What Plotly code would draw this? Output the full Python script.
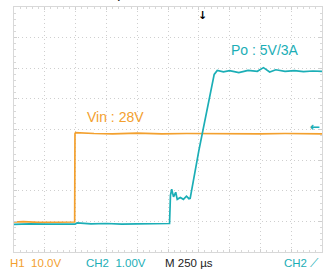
import plotly.graph_objects as go

# Time in divisions (0..10), voltage in divisions (0..8)
vin_t = [0.0, 0.3, 0.8, 1.2, 1.6, 1.97, 1.98, 2.0, 2.6, 3.2, 4.0, 4.8, 5.6, 6.4, 7.2, 8.0, 8.8, 9.6, 10.0]
vin_v = [0.98, 0.99, 0.97, 0.98, 0.99, 0.98, 3.86, 3.90, 3.87, 3.86, 3.88, 3.86, 3.87, 3.86, 3.87, 3.86, 3.87, 3.86, 3.86]

po_t = [0.0, 0.5, 1.0, 1.5, 1.98, 2.05, 2.5, 3.0, 3.5, 4.0, 4.5, 5.05, 5.08, 5.12, 5.18, 5.25, 5.3, 5.4, 5.5, 5.6, 5.68, 5.72,
        6.0, 6.3, 6.5, 6.6, 6.8, 7.0, 7.3, 7.6, 7.9, 8.1, 8.3, 8.5, 8.8, 9.1, 9.4, 9.7, 10.0]
po_v = [0.90, 0.92, 0.91, 0.92, 0.91, 0.95, 0.92, 0.93, 0.91, 0.92, 0.92, 0.93, 1.85, 2.05, 1.80, 1.95, 1.72, 1.78, 1.72, 1.82, 1.74, 1.75,
        3.30, 4.80, 5.80, 5.93, 5.88, 5.92, 5.86, 5.93, 5.90, 6.02, 5.88, 5.95, 5.90, 5.92, 5.89, 5.91, 5.90]

ORANGE = "#F3A02E"
TEAL = "#1BAEB6"

fig = go.Figure()
fig.add_trace(go.Scatter(x=vin_t, y=vin_v, mode="lines", line=dict(color=ORANGE, width=1.7), hoverinfo="skip"))
fig.add_trace(go.Scatter(x=po_t, y=po_v, mode="lines", line=dict(color=TEAL, width=1.7), hoverinfo="skip"))

axis_common = dict(showticklabels=False, zeroline=False, showline=True, linecolor="#d8d8d8", linewidth=1,
                   mirror="ticks", ticks="inside", ticklen=3, tickcolor="#cfcfcf", automargin=False,
                   showgrid=True, gridcolor="#cfcfcf", griddash="1px,3px", gridwidth=1,
                   minor=dict(dtick=0.2, ticks="inside", ticklen=2, tickcolor="#d8d8d8", showgrid=False),
                   fixedrange=True)
fig.update_xaxes(range=[0, 10], dtick=1, **axis_common)
fig.update_yaxes(range=[0, 8], dtick=1, **axis_common)

ann = [
    dict(x=3.3, y=4.4, xref="x", yref="y", text="Vin : 28V", showarrow=False, xanchor="center", yanchor="middle",
         font=dict(color=ORANGE, size=14, family="Liberation Sans")),
    dict(x=8.15, y=6.6, xref="x", yref="y", text="Po : 5V/3A", showarrow=False, xanchor="center", yanchor="middle",
         font=dict(color=TEAL, size=14, family="Liberation Sans")),
    dict(x=1.0, y=4.07, xref="paper", yref="y", text="<b>←</b>", showarrow=False, xanchor="right", yanchor="middle",
         font=dict(color=TEAL, size=12, family="DejaVu Sans")),
    dict(x=6.13, y=8, xref="x", yref="y", text="<b>↓</b>", showarrow=False, xanchor="center", yanchor="top",
         font=dict(color="black", size=11, family="DejaVu Sans")),
]

bottom = [
    ("H1  10.0V", -0.02, "left", ORANGE),
    ("CH2  1.00V", 0.228, "left", TEAL),
    ("M 250 µs", 0.483, "left", "#222222"),
    ("CH2 ⟋", 0.998, "right", TEAL),
]
for txt, xp, xa, col in bottom:
    ann.append(dict(x=xp, y=0, xref="paper", yref="paper", yshift=-11, text=txt, showarrow=False, xanchor=xa,
                    yanchor="middle", font=dict(color=col, size=11.5, family="Liberation Sans")))

ann.append(dict(x=0.27, y=1.0, xref="paper", yref="paper", yshift=4, text="Start-up", showarrow=False,
                xanchor="center", yanchor="bottom", font=dict(color="#222222", size=16, family="Liberation Sans")))

fig.update_layout(width=324, height=271, margin=dict(l=14, r=2, t=7, b=19, autoexpand=False),
                  paper_bgcolor="white", plot_bgcolor="white", showlegend=False, annotations=ann)

fig.write_html("out.html", config={"displayModeBar": False},
               post_script="document.body.style.margin='0';document.body.style.overflow='hidden';")
